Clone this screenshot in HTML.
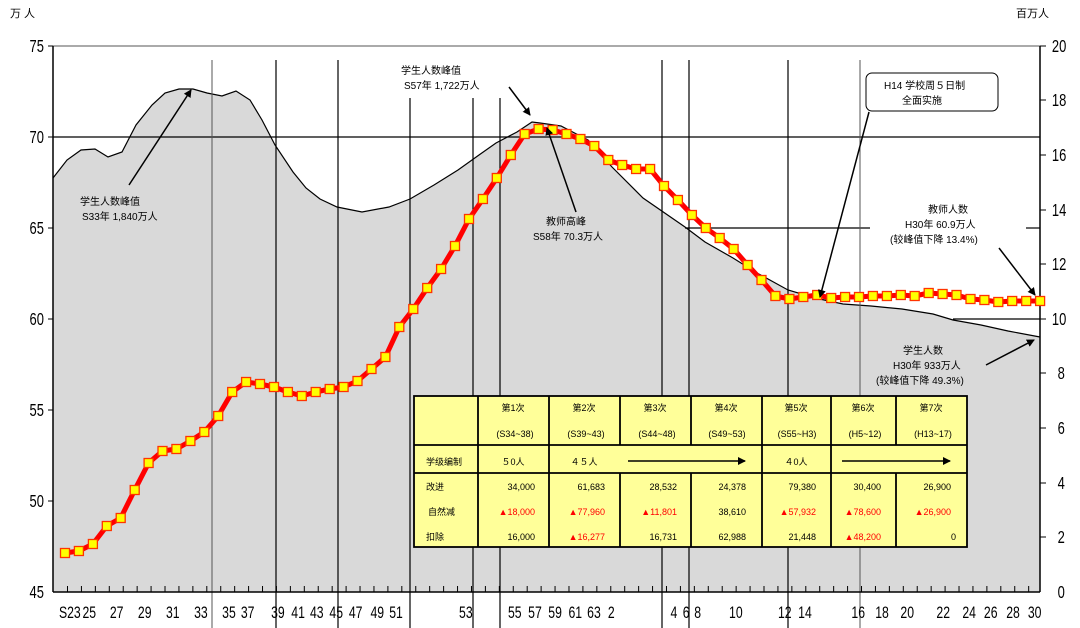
<!DOCTYPE html>
<html><head><meta charset="utf-8"><style>
html,body{margin:0;padding:0;background:#fff;}
svg{display:block;}
text{font-family:"Liberation Sans","Noto Sans CJK SC",sans-serif;fill:#000;}
.ax{font-size:18px;}
.xl{font-size:17px;}
.an{font-size:10px;}
.tb{font-size:9px;}
.rd{fill:#ff0000;}
</style></head><body>
<svg width="1080" height="628" viewBox="0 0 1080 628" xmlns="http://www.w3.org/2000/svg">
<defs>
<marker id="ah" markerWidth="8" markerHeight="8" refX="7" refY="4" orient="auto" markerUnits="userSpaceOnUse"><path d="M0,0 L8,4 L0,8 z" fill="#000"/></marker>
<marker id="sq" markerWidth="11" markerHeight="11" refX="5.5" refY="5.5" markerUnits="userSpaceOnUse"><rect x="1" y="1" width="9" height="9" fill="#ffff00" stroke="#ff3300" stroke-width="1.3"/></marker>
</defs>
<text x="10" y="17" class="an" style="font-size:11px">万 人</text>
<text x="1016" y="17" class="an" style="font-size:11px">百万人</text>
<path d="M53,178 L67,160 L81,150 L95,149 L108,157 L122,152 L136,125 L152,105 L165,93 L179,89 L193,89 L207,93 L222,96 L236,91 L250,100 L262,120 L275,145 L293,172 L306,188 L320,199 L337,207 L362,212 L389,207 L410,199 L434,185 L458,170 L479,155 L496,143 L517,132 L532,122 L540,123 L561,126 L588,140 L612,167 L643,198 L685,227 L705,242 L733,258 L757,273 L788,290 L815,298 L843,304 L871,306 L902,309 L933,314 L953,320 L981,325 L1008,331 L1040,337 L1040,592 L53,592 Z" fill="#d9d9d9" stroke="none"/>
<path d="M53,178 L67,160 L81,150 L95,149 L108,157 L122,152 L136,125 L152,105 L165,93 L179,89 L193,89 L207,93 L222,96 L236,91 L250,100 L262,120 L275,145 L293,172 L306,188 L320,199 L337,207 L362,212 L389,207 L410,199 L434,185 L458,170 L479,155 L496,143 L517,132 L532,122 L540,123 L561,126 L588,140 L612,167 L643,198 L685,227 L705,242 L733,258 L757,273 L788,290 L815,298 L843,304 L871,306 L902,309 L933,314 L953,320 L981,325 L1008,331 L1040,337" fill="none" stroke="#000" stroke-width="1.2"/>
<line x1="53" y1="137" x2="1040" y2="137" stroke="#000" stroke-width="1.2"/>
<line x1="685" y1="228" x2="870" y2="228" stroke="#000" stroke-width="1.2"/>
<line x1="1026" y1="228" x2="1040" y2="228" stroke="#000" stroke-width="1.2"/>
<line x1="953" y1="319" x2="1040" y2="319" stroke="#000" stroke-width="1.2"/>
<line x1="53" y1="46" x2="1040" y2="46" stroke="#555" stroke-width="1"/>
<g stroke="#000" stroke-width="1.2">
<line x1="212" y1="60" x2="212" y2="628" stroke="#555" stroke-width="1"/>
<line x1="276" y1="60" x2="276" y2="628"/>
<line x1="338" y1="60" x2="338" y2="628"/>
<line x1="410" y1="98" x2="410" y2="628"/>
<line x1="473" y1="98" x2="473" y2="628"/>
<line x1="500" y1="98" x2="500" y2="628"/>
<line x1="662" y1="60" x2="662" y2="628"/>
<line x1="689" y1="60" x2="689" y2="628"/>
<line x1="788" y1="60" x2="788" y2="628"/>
<line x1="860" y1="60" x2="860" y2="628" stroke="#555" stroke-width="1"/>
</g>
<line x1="53" y1="46" x2="53" y2="592" stroke="#000" stroke-width="1.5"/>
<line x1="1040" y1="46" x2="1040" y2="592" stroke="#000" stroke-width="1.5"/>
<line x1="67" y1="589" x2="1040" y2="589" stroke="#000" stroke-width="6" stroke-dasharray="1 12.93"/>
<line x1="53" y1="592" x2="1040" y2="592" stroke="#000" stroke-width="1.5"/>
<g stroke="#000" stroke-width="1">
<line x1="48" y1="46" x2="53" y2="46"/><line x1="48" y1="137" x2="53" y2="137"/><line x1="48" y1="228" x2="53" y2="228"/><line x1="48" y1="319" x2="53" y2="319"/><line x1="48" y1="410" x2="53" y2="410"/><line x1="48" y1="501" x2="53" y2="501"/>
<line x1="1040" y1="46" x2="1046" y2="46"/><line x1="1040" y1="100" x2="1046" y2="100"/><line x1="1040" y1="155" x2="1046" y2="155"/><line x1="1040" y1="210" x2="1046" y2="210"/><line x1="1040" y1="264" x2="1046" y2="264"/><line x1="1040" y1="319" x2="1046" y2="319"/><line x1="1040" y1="373" x2="1046" y2="373"/><line x1="1040" y1="428" x2="1046" y2="428"/><line x1="1040" y1="483" x2="1046" y2="483"/><line x1="1040" y1="537" x2="1046" y2="537"/>
</g>
<g transform="scale(0.72,1)">
<g class="ax" text-anchor="end">
<text x="61" y="52">75</text><text x="61" y="143">70</text><text x="61" y="234">65</text><text x="61" y="325">60</text><text x="61" y="416">55</text><text x="61" y="507">50</text><text x="61" y="598">45</text>
</g>
<g class="ax">
<text x="1461" y="52">20</text><text x="1461" y="106">18</text><text x="1461" y="161">16</text><text x="1461" y="216">14</text><text x="1461" y="270">12</text><text x="1461" y="325">10</text><text x="1469" y="379">8</text><text x="1469" y="434">6</text><text x="1469" y="489">4</text><text x="1469" y="543">2</text><text x="1469" y="598">0</text>
</g>
<g class="xl" text-anchor="middle">
<text x="97" y="618">S23</text><text x="124" y="618">25</text><text x="162" y="618">27</text><text x="201" y="618">29</text><text x="240" y="618">31</text><text x="279" y="618">33</text><text x="318" y="618">35</text><text x="344" y="618">37</text><text x="386" y="618">39</text><text x="414" y="618">41</text><text x="440" y="618">43</text><text x="467" y="618">45</text><text x="494" y="618">47</text><text x="524" y="618">49</text><text x="550" y="618">51</text><text x="647" y="618">53</text><text x="715" y="618">55</text><text x="743" y="618">57</text><text x="771" y="618">59</text><text x="799" y="618">61</text><text x="825" y="618">63</text><text x="849" y="618">2</text><text x="936" y="618">4</text><text x="953" y="618">6</text><text x="969" y="618">8</text><text x="1022" y="618">10</text><text x="1090" y="618">12</text><text x="1118" y="618">14</text><text x="1192" y="618">16</text><text x="1225" y="618">18</text><text x="1260" y="618">20</text><text x="1310" y="618">22</text><text x="1346" y="618">24</text><text x="1376" y="618">26</text><text x="1407" y="618">28</text><text x="1437" y="618">30</text>
</g>
</g>
<polyline fill="none" stroke="#ff0000" stroke-width="5" stroke-linejoin="round" marker-start="url(#sq)" marker-mid="url(#sq)" marker-end="url(#sq)" points="65.0,553 78.9,551 92.9,544 106.8,526 120.7,518 134.7,490 148.6,463 162.5,451 176.4,449 190.4,441 204.3,432 218.2,416 232.2,392 246.1,382 260.0,384 274.0,387 287.9,392 301.8,396 315.7,392 329.7,389 343.6,387 357.5,381 371.5,369 385.4,357 399.3,327 413.3,309 427.2,288 441.1,269 455.0,246 469.0,219 482.9,199 496.8,178 510.8,155 524.7,134 538.6,129 552.6,130 566.5,134 580.4,139 594.3,146 608.3,160 622.2,165 636.1,169 650.1,169 664.0,186 677.9,200 691.9,215 705.8,228 719.7,238 733.6,249 747.6,265 761.5,280 775.4,296 789.4,299 803.3,297 817.2,295 831.2,298 845.1,297 859.0,297 872.9,296 886.9,296 900.8,295 914.7,296 928.7,293 942.6,294 956.5,295 970.5,299 984.4,300 998.3,302 1012.2,301 1026.2,301 1040.1,301"/>
<g stroke="#000" stroke-width="1.8">
<rect x="414" y="396" width="553" height="151" fill="#ffff99"/>
<line x1="414" y1="445" x2="967" y2="445"/><line x1="414" y1="473" x2="967" y2="473"/>
<line x1="478" y1="396" x2="478" y2="547"/><line x1="549" y1="396" x2="549" y2="547"/>
<line x1="620" y1="396" x2="620" y2="445"/><line x1="620" y1="473" x2="620" y2="547"/>
<line x1="691" y1="396" x2="691" y2="445"/><line x1="691" y1="473" x2="691" y2="547"/>
<line x1="762" y1="396" x2="762" y2="547"/><line x1="831" y1="396" x2="831" y2="547"/>
<line x1="896" y1="396" x2="896" y2="445"/><line x1="896" y1="473" x2="896" y2="547"/>
</g>
<line x1="628" y1="461" x2="745" y2="461" stroke="#000" stroke-width="1.5" marker-end="url(#ah)"/>
<line x1="842" y1="461" x2="950" y2="461" stroke="#000" stroke-width="1.5" marker-end="url(#ah)"/>
<g class="tb" text-anchor="middle">
<text x="513" y="411">第1次</text><text x="584" y="411">第2次</text><text x="655" y="411">第3次</text><text x="726" y="411">第4次</text><text x="796" y="411">第5次</text><text x="863" y="411">第6次</text><text x="931" y="411">第7次</text>
<text x="515" y="437">(S34~38)</text><text x="586" y="437">(S39~43)</text><text x="657" y="437">(S44~48)</text><text x="727" y="437">(S49~53)</text><text x="797" y="437">(S55~H3)</text><text x="865" y="437">(H5~12)</text><text x="933" y="437">(H13~17)</text>
<text x="513" y="465">５0人</text><text x="584" y="465">４５人</text><text x="796" y="465">４0人</text>
</g>
<g class="tb">
<text x="426" y="465">学级编制</text><text x="426" y="490">改进</text><text x="428" y="515">自然减</text><text x="426" y="540">扣除</text>
</g>
<g class="tb" text-anchor="end">
<text x="535" y="490">34,000</text><text x="605" y="490">61,683</text><text x="677" y="490">28,532</text><text x="746" y="490">24,378</text><text x="816" y="490">79,380</text><text x="881" y="490">30,400</text><text x="951" y="490">26,900</text>
<text x="535" y="515" class="rd">▲18,000</text><text x="605" y="515" class="rd">▲77,960</text><text x="677" y="515" class="rd">▲11,801</text><text x="746" y="515">38,610</text><text x="816" y="515" class="rd">▲57,932</text><text x="881" y="515" class="rd">▲78,600</text><text x="951" y="515" class="rd">▲26,900</text>
<text x="535" y="540">16,000</text><text x="605" y="540" class="rd">▲16,277</text><text x="677" y="540">16,731</text><text x="746" y="540">62,988</text><text x="816" y="540">21,448</text><text x="881" y="540" class="rd">▲48,200</text><text x="956" y="540">0</text>
</g>
<g stroke="#000" stroke-width="1.5" fill="none">
<line x1="129" y1="185" x2="191" y2="90" marker-end="url(#ah)"/>
<line x1="509" y1="87" x2="530" y2="115" marker-end="url(#ah)"/>
<line x1="576" y1="212" x2="547" y2="128" marker-end="url(#ah)"/>
<line x1="869" y1="112" x2="820" y2="297" marker-end="url(#ah)"/>
<line x1="999" y1="248" x2="1035" y2="295" marker-end="url(#ah)"/>
<line x1="986" y1="365" x2="1034" y2="340" marker-end="url(#ah)"/>
</g>
<rect x="866" y="73" width="132" height="38" rx="6" fill="#fff" stroke="#000" stroke-width="1"/>
<g class="an">
<text x="80" y="205">学生人数峰值</text><text x="82" y="220">S33年 1,840万人</text>
<text x="401" y="74">学生人数峰值</text><text x="404" y="89">S57年 1,722万人</text>
<text x="546" y="225">教师高峰</text><text x="533" y="240">S58年 70.3万人</text>
<text x="884" y="89">H14 学校周５日制</text><text x="902" y="104">全面实施</text>
<text x="928" y="213">教师人数</text><text x="905" y="228">H30年 60.9万人</text><text x="890" y="243">(较峰值下降 13.4%)</text>
<text x="903" y="354">学生人数</text><text x="893" y="369">H30年 933万人</text><text x="876" y="384">(较峰值下降 49.3%)</text>
</g>
</svg>
</body></html>
